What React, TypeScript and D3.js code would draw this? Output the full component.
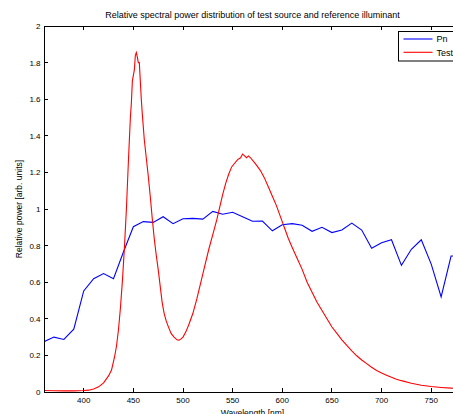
import React from "react";
import * as d3 from "d3";

const TITLE = "Relative spectral power distribution of test source and reference illuminant";
const X_LABEL = "Wavelength [nm]";
const Y_LABEL = "Relative power [arb. units]";

const xTicks = [400, 450, 500, 550, 600, 650, 700, 750];
const yTicks = [0, 0.2, 0.4, 0.6, 0.8, 1, 1.2, 1.4, 1.6, 1.8, 2];

// Reference illuminant (Pn), sampled every 10 nm
const pnWavelengths = [360, 370, 380, 390, 400, 410, 420, 430, 440, 450, 460, 470, 480, 490, 500, 510, 520, 530, 540, 550, 560, 570, 580, 590, 600, 610, 620, 630, 640, 650, 660, 670, 680, 690, 700, 710, 720, 730, 740, 750, 760, 770, 780];
const pnValues = [0.275, 0.300, 0.287, 0.343, 0.552, 0.619, 0.647, 0.619, 0.765, 0.903, 0.931, 0.927, 0.958, 0.920, 0.947, 0.949, 0.945, 0.987, 0.971, 0.982, 0.958, 0.933, 0.934, 0.881, 0.914, 0.920, 0.911, 0.878, 0.900, 0.871, 0.885, 0.923, 0.885, 0.785, 0.816, 0.832, 0.692, 0.780, 0.832, 0.699, 0.520, 0.743, 0.745];

// Test source
const testWavelengths = [360, 370, 380, 390, 400, 405, 410, 415, 420, 425, 428, 431, 433, 435, 437, 439, 441, 443, 445, 447, 448, 449, 450, 451, 452, 453, 454, 455, 456, 457, 458, 459, 461, 463, 465, 467, 469, 471, 473, 475, 477, 479, 481, 483, 485, 488, 491, 494, 496, 498, 500, 503, 506, 510, 514, 518, 522, 526, 530, 534, 537, 540, 543, 546, 549, 552, 555, 558, 560, 562, 564, 566, 568, 571, 574, 578, 582, 586, 590, 594, 598, 602, 606, 610, 615, 620, 625, 630, 635, 640, 645, 650, 655, 660, 665, 670, 675, 680, 685, 690, 695, 700, 705, 710, 715, 720, 730, 740, 750, 760, 770, 780];
const testValues = [0.008, 0.007, 0.006, 0.006, 0.008, 0.010, 0.016, 0.028, 0.050, 0.088, 0.120, 0.190, 0.250, 0.340, 0.460, 0.610, 0.790, 1.000, 1.260, 1.500, 1.580, 1.700, 1.730, 1.760, 1.840, 1.855, 1.830, 1.800, 1.800, 1.700, 1.600, 1.520, 1.380, 1.280, 1.180, 1.070, 0.950, 0.840, 0.750, 0.670, 0.580, 0.490, 0.430, 0.390, 0.360, 0.320, 0.300, 0.285, 0.283, 0.290, 0.300, 0.330, 0.370, 0.430, 0.510, 0.600, 0.690, 0.780, 0.860, 0.940, 1.010, 1.080, 1.140, 1.190, 1.230, 1.250, 1.270, 1.280, 1.300, 1.290, 1.280, 1.290, 1.280, 1.260, 1.240, 1.210, 1.170, 1.120, 1.070, 1.020, 0.960, 0.900, 0.840, 0.790, 0.730, 0.670, 0.600, 0.545, 0.490, 0.445, 0.400, 0.355, 0.320, 0.285, 0.255, 0.225, 0.198, 0.175, 0.155, 0.135, 0.118, 0.104, 0.092, 0.080, 0.070, 0.062, 0.048, 0.037, 0.030, 0.025, 0.021, 0.018];

const legendNames = ["Pn", "Test"];
const seriesColors = ["#0000ff", "#ff0000"];

const W = 453;
const H = 414;
const left = 44;
const right = 461;
const top = 26;
const bottom = 392;
const FONT = "Arial, 'Liberation Sans', Helvetica, sans-serif";

export default function App() {
  const x = d3.scaleLinear().domain([360, 780]).range([left, right]);
  const y = d3.scaleLinear().domain([0, 2]).range([bottom, top]);

  const line = d3
    .line<[number, number]>()
    .x((d) => x(d[0]))
    .y((d) => y(d[1]));

  const pnData: [number, number][] = pnWavelengths.map((w, i) => [w, pnValues[i]]);
  const testData: [number, number][] = testWavelengths.map((w, i) => [w, testValues[i]]);

  const tickLen = 4;

  return (
    <svg
      width={W}
      height={H}
      style={{ position: "absolute", left: 0, top: 0, background: "#fff" }}
      fontFamily={FONT}
    >
      <rect x={0} y={0} width={W} height={H} fill="#fff" />
      <defs>
        <clipPath id="plotClip">
          <rect x={left} y={top} width={right - left} height={bottom - top} />
        </clipPath>
      </defs>

      <text x={252.5} y={18} fontSize={9} textAnchor="middle" fill="#000">
        {TITLE}
      </text>

      <g clipPath="url(#plotClip)">
        <path d={line(pnData) || ""} fill="none" stroke={seriesColors[0]} strokeWidth={1.1} />
        <path d={line(testData) || ""} fill="none" stroke={seriesColors[1]} strokeWidth={1.1} />
      </g>

      {/* axes box */}
      <g stroke="#000" strokeWidth={1} fill="none" shapeRendering="crispEdges">
        <line x1={left} y1={top} x2={right} y2={top} />
        <line x1={left} y1={bottom} x2={right} y2={bottom} />
        <line x1={left} y1={top} x2={left} y2={bottom} />
        <line x1={right} y1={top} x2={right} y2={bottom} />
      </g>

      {/* x ticks */}
      <g stroke="#000" strokeWidth={1} shapeRendering="crispEdges">
        {xTicks.map((t) => (
          <g key={"xt" + t}>
            <line x1={x(t)} y1={bottom} x2={x(t)} y2={bottom - tickLen} />
            <line x1={x(t)} y1={top} x2={x(t)} y2={top + tickLen} />
          </g>
        ))}
        {yTicks.map((t) => (
          <g key={"yt" + t}>
            <line x1={left} y1={y(t)} x2={left + tickLen} y2={y(t)} />
            <line x1={right} y1={y(t)} x2={right - tickLen} y2={y(t)} />
          </g>
        ))}
      </g>

      {xTicks.map((t) => (
        <text key={"xl" + t} x={x(t)} y={403} fontSize={8} textAnchor="middle" fill="#000">
          {t}
        </text>
      ))}
      {yTicks.map((t) => (
        <text key={"yl" + t} x={40.5} y={y(t) + 3} fontSize={8} textAnchor="end" fill="#000">
          {d3.format("~g")(t)}
        </text>
      ))}

      <text x={252.5} y={415.5} fontSize={8.5} textAnchor="middle" fill="#000">
        {X_LABEL}
      </text>
      <text
        transform={`translate(21.5, ${(top + bottom) / 2}) rotate(-90)`}
        fontSize={8.5}
        textAnchor="middle"
        fill="#000"
      >
        {Y_LABEL}
      </text>

      {/* legend */}
      <g>
        <rect x={398.5} y={31.5} width={60} height={29.5} fill="#fff" stroke="#000" strokeWidth={1} />
        {legendNames.map((name, i) => {
          const ly = 39 + i * 13.3;
          return (
            <g key={name}>
              <line x1={403.5} y1={ly} x2={432.5} y2={ly} stroke={seriesColors[i]} strokeWidth={1.1} />
              <text x={436.5} y={ly + 3.2} fontSize={9} fill="#000">
                {name}
              </text>
            </g>
          );
        })}
      </g>
    </svg>
  );
}
